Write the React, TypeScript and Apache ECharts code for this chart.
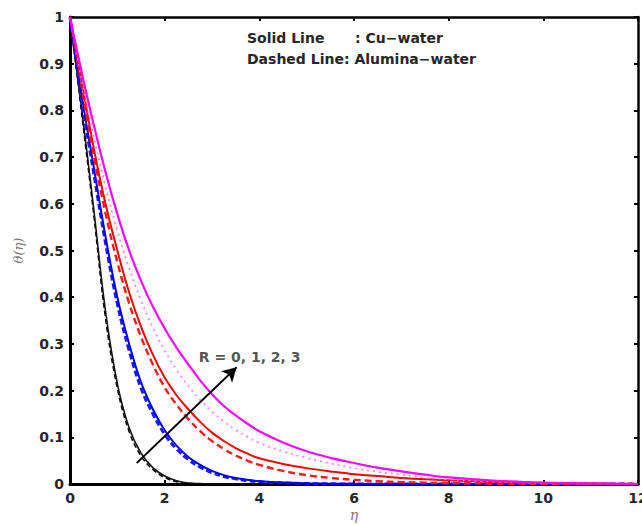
import React, { useEffect, useRef } from "react";
import * as echarts from "echarts";

const eta = [0, 0.25, 0.5, 0.75, 1, 1.25, 1.5, 1.75, 2, 2.25, 2.5, 2.75, 3, 3.25, 3.5, 3.75, 4, 4.5, 5, 5.5, 6, 6.5, 7, 7.5, 8, 9, 10, 11, 12];

const blackSolid = [1, 0.8, 0.59, 0.37, 0.215, 0.12, 0.066, 0.035, 0.017, 0.007, 0.002, 0.001, 0, 0, 0, 0, 0, 0, 0, 0, 0, 0, 0, 0, 0, 0, 0, 0, 0];
const blackDashed = [1, 0.79, 0.578, 0.355, 0.205, 0.112, 0.06, 0.031, 0.014, 0.005, 0.0015, 0.0005, 0, 0, 0, 0, 0, 0, 0, 0, 0, 0, 0, 0, 0, 0, 0, 0, 0];
const blueSolid = [1, 0.83, 0.68, 0.53, 0.4, 0.3, 0.218, 0.16, 0.115, 0.082, 0.058, 0.041, 0.028, 0.019, 0.013, 0.009, 0.006, 0.003, 0.0015, 0.0007, 0.0003, 0, 0, 0, 0, 0, 0, 0, 0];
const blueDashed = [1, 0.82, 0.665, 0.515, 0.385, 0.285, 0.205, 0.15, 0.106, 0.075, 0.052, 0.036, 0.024, 0.016, 0.011, 0.007, 0.005, 0.0025, 0.0012, 0.0005, 0.0002, 0, 0, 0, 0, 0, 0, 0, 0];
const redSolid = [1, 0.86, 0.72, 0.6, 0.5, 0.41, 0.337, 0.277, 0.228, 0.19, 0.16, 0.133, 0.11, 0.092, 0.077, 0.065, 0.055, 0.043, 0.034, 0.027, 0.021, 0.017, 0.013, 0.01, 0.008, 0.004, 0.002, 0.001, 0];
const redDashed = [1, 0.85, 0.705, 0.58, 0.475, 0.387, 0.315, 0.256, 0.207, 0.17, 0.139, 0.113, 0.092, 0.075, 0.061, 0.05, 0.041, 0.028, 0.019, 0.013, 0.009, 0.006, 0.004, 0.003, 0.002, 0.001, 0, 0, 0];
const magentaSolid = [1, 0.88, 0.77, 0.668, 0.578, 0.5, 0.435, 0.38, 0.333, 0.292, 0.256, 0.222, 0.192, 0.167, 0.147, 0.129, 0.113, 0.089, 0.07, 0.056, 0.045, 0.035, 0.027, 0.02, 0.014, 0.007, 0.003, 0.001, 0];
const magentaDotted = [1, 0.865, 0.745, 0.637, 0.542, 0.462, 0.393, 0.335, 0.286, 0.245, 0.21, 0.18, 0.155, 0.134, 0.116, 0.101, 0.088, 0.07, 0.056, 0.044, 0.034, 0.026, 0.02, 0.014, 0.01, 0.005, 0.002, 0.001, 0];

const arrowFrom = [1.41, 0.045];
const arrowTo = [3.52, 0.25];
const rLabelPos = [2.72, 0.272];
const rLabel = "R = 0, 1, 2, 3";
const legendLeft = ["Solid Line", "Dashed Line: Alumina\u2212water"];
const legendRight = ": Cu\u2212water";

const pair = (ys: number[]) => eta.map((x, i) => [x, ys[i]]);

export default function App() {
  const ref = useRef<HTMLDivElement>(null);
  useEffect(() => {
    if (!ref.current) return;
    const chart = echarts.init(ref.current, undefined, { renderer: "svg" });
    const line = (name: string, ys: number[], color: string, type: any, width: number) => ({
      name,
      type: "line",
      data: pair(ys),
      smooth: 0.4,
      showSymbol: false,
      symbol: "none",
      lineStyle: { color, type, width },
      z: 3,
    });
    const fontFam = "'DejaVu Sans', Verdana, sans-serif";
    const labelFont = { fontFamily: fontFam, fontWeight: "bold", fontSize: 14, color: "#262626" };
    chart.setOption({
      animation: false,
      backgroundColor: "#fff",
      grid: { left: 70, right: 4, top: 17, bottom: 41, containLabel: false, outerBoundsMode: "none" },
      xAxis: [
        {
          type: "value", min: 0, max: 12, interval: 2,
          name: "\u03b7", nameLocation: "middle", nameGap: 24, nameMoveOverlap: false,
          nameTextStyle: { fontFamily: "DejaVu Serif, serif", fontStyle: "italic", fontSize: 14, color: "#7a7a7a" },
          axisLine: { show: true, onZero: false, lineStyle: { color: "#000", width: 3 } },
          axisTick: { show: true, inside: true, length: 4, lineStyle: { color: "#000", width: 2 } },
          axisLabel: { ...labelFont, margin: 7 },
          splitLine: { show: false },
        },
        {
          type: "value", min: 0, max: 12, interval: 2, position: "top",
          axisLine: { show: true, onZero: false, lineStyle: { color: "#000", width: 2.5 } },
          axisTick: { show: true, inside: true, length: 4, lineStyle: { color: "#000", width: 2 } },
          axisLabel: { show: false },
          splitLine: { show: false },
        },
      ],
      yAxis: [
        {
          type: "value", min: 0, max: 1, interval: 0.1,
          name: "\u03b8(\u03b7)", nameLocation: "middle", nameGap: 45, nameRotate: 90, nameMoveOverlap: false,
          nameTextStyle: { fontFamily: "DejaVu Serif, serif", fontStyle: "italic", fontSize: 13, color: "#7a7a7a" },
          axisLine: { show: true, onZero: false, lineStyle: { color: "#000", width: 3 } },
          axisTick: { show: true, inside: true, length: 4, lineStyle: { color: "#000", width: 2 } },
          axisLabel: { ...labelFont, margin: 6 },
          splitLine: { show: false },
        },
        {
          type: "value", min: 0, max: 1, interval: 0.1, position: "right",
          axisLine: { show: true, onZero: false, lineStyle: { color: "#000", width: 2.5 } },
          axisTick: { show: true, inside: true, length: 4, lineStyle: { color: "#000", width: 2 } },
          axisLabel: { show: false },
          splitLine: { show: false },
        },
      ],
      series: [
        line("R=0 Alumina", blackDashed, "#000", [5, 3], 1.5),
        line("R=0 Cu", blackSolid, "#111", "solid", 1.6),
        line("R=1 Alumina", blueDashed, "#1a1aff", [6, 3], 2.8),
        line("R=1 Cu", blueSolid, "#0000ff", "solid", 2),
        line("R=2 Alumina", redDashed, "#ff1a1a", [7, 4], 2.4),
        line("R=2 Cu", redSolid, "#ff0000", "solid", 2),
        line("R=3 Alumina", magentaDotted, "#ff80ff", [2, 4], 1.8),
        {
          ...line("R=3 Cu", magentaSolid, "#ff00ff", "solid", 2.2),
          markLine: {
            silent: true,
            symbol: ["none", "arrow"],
            symbolSize: [12, 14],
            label: { show: false },
            lineStyle: { color: "#000", type: "solid", width: 1.8 },
            data: [[{ coord: arrowFrom }, { coord: arrowTo }]],
          },
        },
        {
          type: "scatter",
          data: [rLabelPos],
          symbolSize: 0,
          label: {
            show: true, position: "right", distance: 0,
            formatter: rLabel,
            ...labelFont,
          },
          z: 5,
        },
      ],
      graphic: [
        ...legendLeft.map((t, i) => ({
          type: "text",
          left: 247,
          top: 31 + i * 21,
          style: { text: t, font: `bold 14px ${fontFam}`, fill: "#262626" },
        })),
        {
          type: "text",
          left: 355,
          top: 31,
          style: { text: legendRight, font: `bold 14px ${fontFam}`, fill: "#262626" },
        },
      ],
    });
    return () => chart.dispose();
  }, []);
  return <div ref={ref} style={{ position: "fixed", left: 0, top: 0, width: 642, height: 525, background: "#fff" }} />;
}
